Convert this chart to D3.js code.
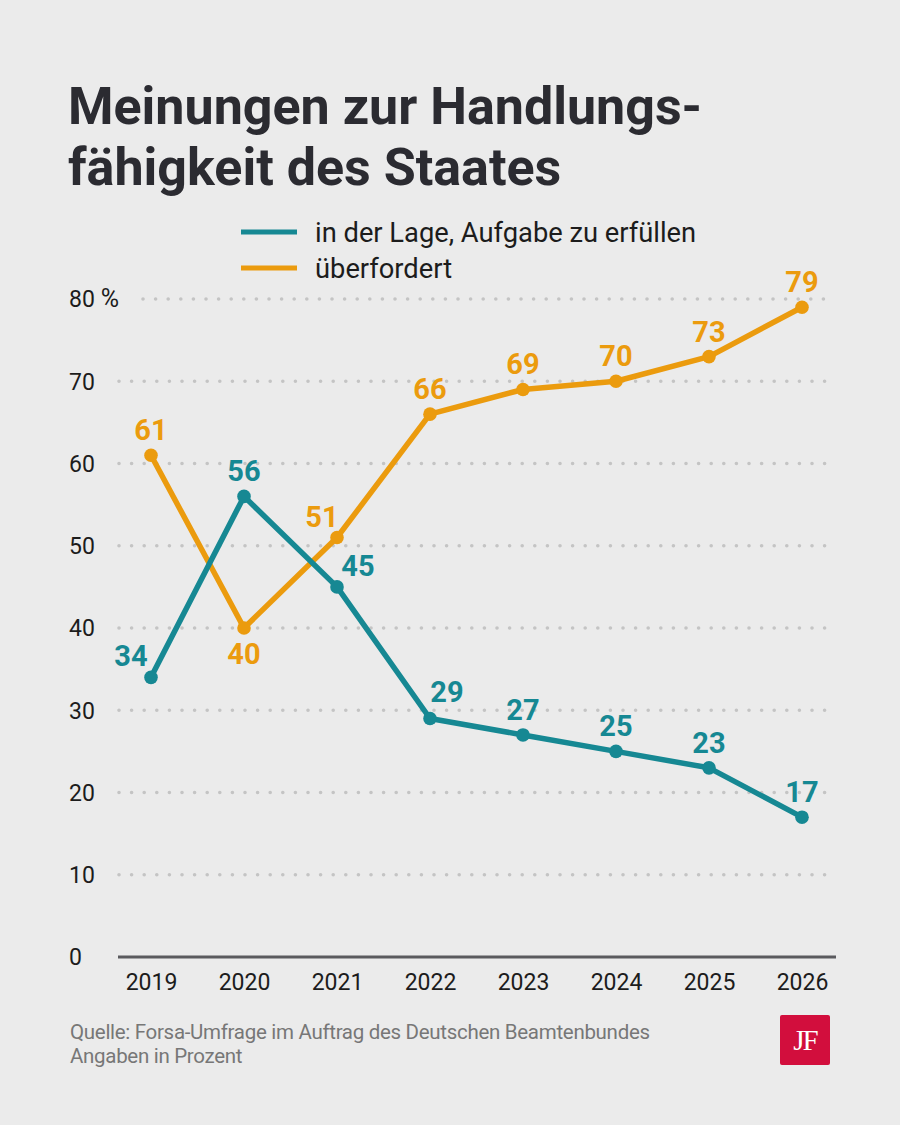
<!DOCTYPE html>
<html>
<head>
  <meta charset="utf-8">
  <title>Meinungen zur Handlungsfähigkeit des Staates</title>
  <script src="https://cdn.jsdelivr.net/npm/d3@7"></script>
  <style>
    body { margin: 0; background: #ebebeb; }
    svg { display: block; }
    text { font-family: Roboto, "Liberation Sans", sans-serif; }
    .title { font-weight: 700; fill: #2b2b31; }
    .tick-label { font-size: 23px; fill: #1c1c1c; }
    .legend-label { font-size: 27.3px; fill: #1c1c1c; }
    .value-label { font-size: 29px; font-weight: 700; }
    .source { font-size: 20.5px; fill: #777777; letter-spacing: -0.3px; }
  </style>
</head>
<body>
<div id="chart"></div>
<script>
  // data
  const years = [2019, 2020, 2021, 2022, 2023, 2024, 2025, 2026];
  const inDerLage = [34, 56, 45, 29, 27, 25, 23, 17];
  const ueberfordert = [61, 40, 51, 66, 69, 70, 73, 79];
  const yTicks = [0, 10, 20, 30, 40, 50, 60, 70, 80];
  const seriesNames = ["in der Lage, Aufgabe zu erfüllen", "überfordert"];

  const width = 900, height = 1125;
  const teal = "#168893", orange = "#eb9b0e";

  const svg = d3.select("#chart").append("svg")
    .attr("width", width)
    .attr("height", height);

  svg.append("rect").attr("width", width).attr("height", height).attr("fill", "#ebebeb");

  // title
  const title = svg.append("text").attr("class", "title").attr("x", 68).attr("y", 124)
    .style("font-size", "52px");
  title.append("tspan").attr("x", 68).text("Meinungen zur Handlungs-");
  title.append("tspan").attr("x", 68).attr("dy", 61).text("fähigkeit des Staates");

  // scales
  const x = d3.scalePoint().domain(years).range([151, 802]);
  const y = d3.scaleLinear().domain([0, 80]).range([957, 299]);

  // gridlines (dotted)
  svg.append("g").selectAll("line")
    .data(yTicks.filter(d => d > 0))
    .join("line")
    .attr("x1", d => d === 80 ? 143 : 119)
    .attr("x2", 836)
    .attr("y1", d => y(d))
    .attr("y2", d => y(d))
    .attr("stroke", "#c4c4c4")
    .attr("stroke-width", 3.6)
    .attr("stroke-linecap", "round")
    .attr("stroke-dasharray", "0 12.6");

  // baseline
  svg.append("line")
    .attr("x1", 118).attr("x2", 836)
    .attr("y1", y(0)).attr("y2", y(0))
    .attr("stroke", "#5a5a5e").attr("stroke-width", 3);

  // y tick labels
  const yLabels = svg.append("g").selectAll("text")
    .data(yTicks)
    .join("text")
    .attr("class", "tick-label")
    .attr("x", 69)
    .attr("y", d => y(d))
    .attr("dy", "0.36em")
    .text(d => d);
  yLabels.filter(d => d === 80).append("tspan")
    .attr("dx", 6)
    .style("font-size", "25px")
    .text("%");

  // x axis labels
  const xAxis = svg.append("g")
    .attr("transform", `translate(0,${y(0) + 11})`)
    .call(d3.axisBottom(x).tickSize(0).tickPadding(0));
  xAxis.select(".domain").remove();
  xAxis.selectAll("text")
    .attr("class", "tick-label")
    .attr("dy", "0.95em")
    .style("font-size", "23px")
    .style("font-family", "Roboto, sans-serif");

  // legend
  const legend = svg.append("g");
  [teal, orange].forEach((c, i) => {
    const ly = 232 + i * 36;
    legend.append("line")
      .attr("x1", 241).attr("x2", 297)
      .attr("y1", ly).attr("y2", ly)
      .attr("stroke", c).attr("stroke-width", 5);
    legend.append("text")
      .attr("class", "legend-label")
      .attr("x", 315).attr("y", ly)
      .attr("dy", "0.35em")
      .text(seriesNames[i]);
  });

  // label placement tweaks (dx, dy from point)
  const tealOffsets = { 2019: [-20, -11], 2021: [21, -11], 2022: [17, -16] };
  const orangeOffsets = { 2020: [0, 36], 2021: [-15, -11] };

  const line = d3.line().x(d => x(d.year)).y(d => y(d.value));

  function drawSeries(values, color, offsets) {
    const pts = years.map((yr, i) => ({ year: yr, value: values[i] }));
    const g = svg.append("g");
    g.append("path")
      .datum(pts)
      .attr("d", line)
      .attr("fill", "none")
      .attr("stroke", color)
      .attr("stroke-width", 5.5)
      .attr("stroke-linejoin", "round");
    g.selectAll("circle")
      .data(pts)
      .join("circle")
      .attr("cx", d => x(d.year))
      .attr("cy", d => y(d.value))
      .attr("r", 6.8)
      .attr("fill", color);
    g.selectAll("text")
      .data(pts)
      .join("text")
      .attr("class", "value-label")
      .attr("fill", color)
      .attr("text-anchor", "middle")
      .attr("x", d => x(d.year) + (offsets[d.year] ? offsets[d.year][0] : 0))
      .attr("y", d => y(d.value) + (offsets[d.year] ? offsets[d.year][1] : -15))
      .text(d => d.value);
  }

  drawSeries(ueberfordert, orange, orangeOffsets);
  drawSeries(inDerLage, teal, tealOffsets);

  // source
  svg.append("text").attr("class", "source").attr("x", 70).attr("y", 1039)
    .text("Quelle: Forsa-Umfrage im Auftrag des Deutschen Beamtenbundes");
  svg.append("text").attr("class", "source").attr("x", 70).attr("y", 1063)
    .text("Angaben in Prozent");

  // JF logo
  svg.append("rect")
    .attr("x", 780).attr("y", 1015).attr("width", 50).attr("height", 50)
    .attr("rx", 2).attr("fill", "#d20e3d");
  svg.append("text")
    .attr("x", 805).attr("y", 1050)
    .attr("text-anchor", "middle")
    .style("font-family", "'Liberation Serif', 'DejaVu Serif', serif")
    .style("font-size", "29px")
    .style("letter-spacing", "-2px")
    .attr("fill", "#ffffff")
    .text("JF");
</script>
</body>
</html>
